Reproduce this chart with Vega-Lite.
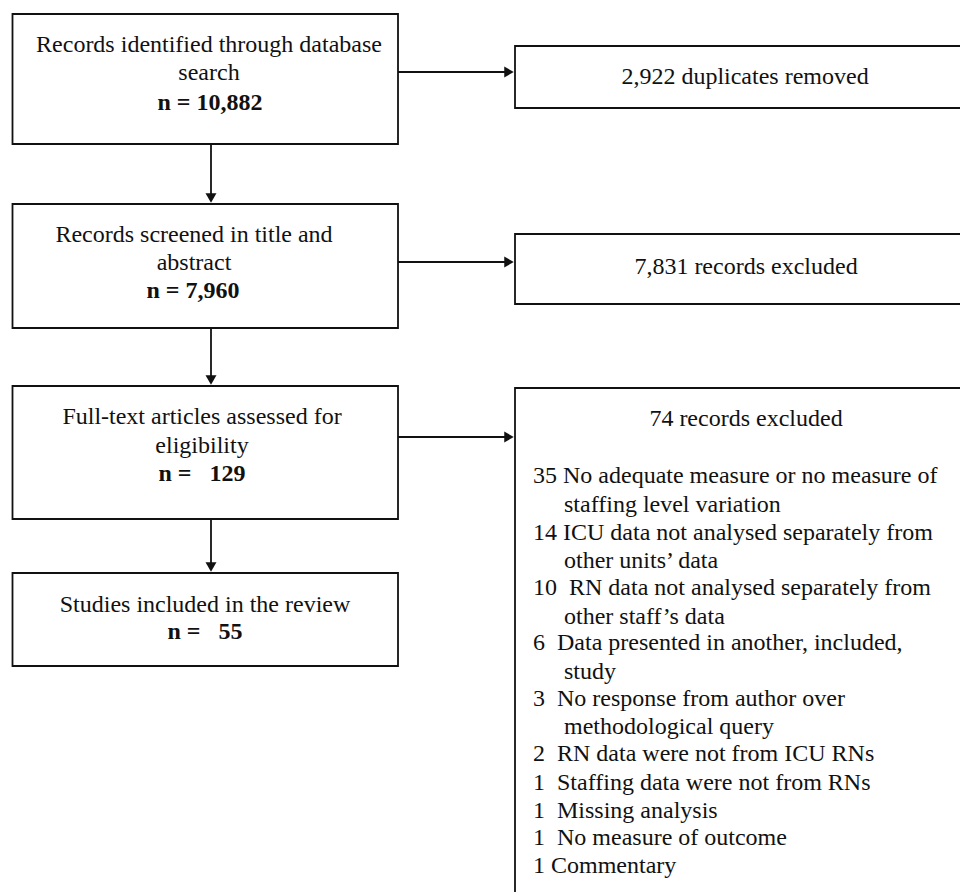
{
  "$schema": "https://vega.github.io/schema/vega-lite/v6.json",
  "width": 960,
  "height": 892,
  "autosize": {"type": "fit", "contains": "padding"},
  "padding": 0,
  "background": "white",
  "config": {"view": {"stroke": null}},
  "datasets": {
    "boxes": [
      {"id": "B1", "x": 12.5, "x2": 398, "y": 14, "y2": 144},
      {"id": "B2", "x": 12.5, "x2": 398, "y": 204, "y2": 328},
      {"id": "B3", "x": 12.5, "x2": 398, "y": 386, "y2": 519},
      {"id": "B4", "x": 12.5, "x2": 398, "y": 573, "y2": 666},
      {"id": "R1", "x": 515, "x2": 975, "y": 46, "y2": 108},
      {"id": "R2", "x": 515, "x2": 975, "y": 234, "y2": 304},
      {"id": "R3", "x": 515, "x2": 975, "y": 388, "y2": 910}
    ],
    "arrows": [
      {"x": 211, "y": 144, "x2": 211, "y2": 197},
      {"x": 211, "y": 328, "x2": 211, "y2": 379},
      {"x": 211, "y": 519, "x2": 211, "y2": 566},
      {"x": 398, "y": 72, "x2": 508, "y2": 72},
      {"x": 398, "y": 262, "x2": 508, "y2": 262},
      {"x": 398, "y": 437, "x2": 508, "y2": 437}
    ],
    "heads": [
      {"x": 211, "y": 198, "dir": "down"},
      {"x": 211, "y": 380, "dir": "down"},
      {"x": 211, "y": 567, "dir": "down"},
      {"x": 509, "y": 72, "dir": "right"},
      {"x": 509, "y": 262, "dir": "right"},
      {"x": 509, "y": 437, "dir": "right"}
    ],
    "labels": [
      {"x": 209, "y": 45, "text": "Records identified through database", "kind": "c"},
      {"x": 209, "y": 73, "text": "search", "kind": "c"},
      {"x": 210, "y": 103, "text": "n = 10,882", "kind": "b"},
      {"x": 194, "y": 235, "text": "Records screened in title and", "kind": "c"},
      {"x": 194, "y": 263, "text": "abstract", "kind": "c"},
      {"x": 193, "y": 291, "text": "n = 7,960", "kind": "b"},
      {"x": 202, "y": 417, "text": "Full-text articles assessed for", "kind": "c"},
      {"x": 202, "y": 446, "text": "eligibility", "kind": "c"},
      {"x": 202, "y": 474, "text": "n =\u00a0\u00a0 129", "kind": "b"},
      {"x": 205, "y": 605, "text": "Studies included in the review", "kind": "c"},
      {"x": 205, "y": 632, "text": "n =\u00a0\u00a0 55", "kind": "b"},
      {"x": 745, "y": 77, "text": "2,922 duplicates removed", "kind": "c"},
      {"x": 746, "y": 267, "text": "7,831 records excluded", "kind": "c"},
      {"x": 746, "y": 419, "text": "74 records excluded", "kind": "c"},
      {"x": 533, "y": 476, "text": "35 No adequate measure or no measure of", "kind": "l"},
      {"x": 564, "y": 505, "text": "staffing level variation", "kind": "l"},
      {"x": 533, "y": 533, "text": "14 ICU data not analysed separately from", "kind": "l"},
      {"x": 564, "y": 561, "text": "other units\u2019 data", "kind": "l"},
      {"x": 533, "y": 588, "text": "10\u00a0 RN data not analysed separately from", "kind": "l"},
      {"x": 564, "y": 617, "text": "other staff\u2019s data", "kind": "l"},
      {"x": 533, "y": 643, "text": "6\u00a0 Data presented in another, included,", "kind": "l"},
      {"x": 564, "y": 672, "text": "study", "kind": "l"},
      {"x": 533, "y": 699, "text": "3\u00a0 No response from author over", "kind": "l"},
      {"x": 564, "y": 727, "text": "methodological query", "kind": "l"},
      {"x": 533, "y": 754, "text": "2\u00a0 RN data were not from ICU RNs", "kind": "l"},
      {"x": 533, "y": 783, "text": "1\u00a0 Staffing data were not from RNs", "kind": "l"},
      {"x": 533, "y": 811, "text": "1\u00a0 Missing analysis", "kind": "l"},
      {"x": 533, "y": 838, "text": "1\u00a0 No measure of outcome", "kind": "l"},
      {"x": 533, "y": 866, "text": "1 Commentary", "kind": "l"}
    ]
  },
  "layer": [
    {
      "data": {"name": "boxes"},
      "mark": {"type": "rect", "fill": "white", "stroke": "#111111", "strokeWidth": 1.8, "clip": true},
      "encoding": {
        "x": {"field": "x", "type": "quantitative", "scale": {"domain": [0, 960], "nice": false, "zero": false}, "axis": null},
        "x2": {"field": "x2"},
        "y": {"field": "y", "type": "quantitative", "scale": {"domain": [0, 892], "nice": false, "zero": false, "reverse": true}, "axis": null},
        "y2": {"field": "y2"}
      }
    },
    {
      "data": {"name": "arrows"},
      "mark": {"type": "rule", "color": "#111111", "strokeWidth": 1.8},
      "encoding": {
        "x": {"field": "x", "type": "quantitative"},
        "x2": {"field": "x2"},
        "y": {"field": "y", "type": "quantitative"},
        "y2": {"field": "y2"}
      }
    },
    {
      "data": {"name": "heads"},
      "transform": [{"filter": "datum.dir === 'down'"}],
      "mark": {"type": "point", "shape": "triangle-down", "filled": true, "color": "#111111", "size": 120, "opacity": 1},
      "encoding": {
        "x": {"field": "x", "type": "quantitative"},
        "y": {"field": "y", "type": "quantitative"}
      }
    },
    {
      "data": {"name": "heads"},
      "transform": [{"filter": "datum.dir === 'right'"}],
      "mark": {"type": "point", "shape": "triangle-right", "filled": true, "color": "#111111", "size": 120, "opacity": 1},
      "encoding": {
        "x": {"field": "x", "type": "quantitative"},
        "y": {"field": "y", "type": "quantitative"}
      }
    },
    {
      "data": {"name": "labels"},
      "transform": [{"filter": "datum.kind === 'c'"}],
      "mark": {"type": "text", "font": "Liberation Serif", "fontSize": 24, "align": "center", "baseline": "middle", "color": "#111111"},
      "encoding": {
        "x": {"field": "x", "type": "quantitative"},
        "y": {"field": "y", "type": "quantitative"},
        "text": {"field": "text"}
      }
    },
    {
      "data": {"name": "labels"},
      "transform": [{"filter": "datum.kind === 'b'"}],
      "mark": {"type": "text", "font": "Liberation Serif", "fontSize": 24, "fontWeight": "bold", "align": "center", "baseline": "middle", "color": "#111111"},
      "encoding": {
        "x": {"field": "x", "type": "quantitative"},
        "y": {"field": "y", "type": "quantitative"},
        "text": {"field": "text"}
      }
    },
    {
      "data": {"name": "labels"},
      "transform": [{"filter": "datum.kind === 'l'"}],
      "mark": {"type": "text", "font": "Liberation Serif", "fontSize": 24, "align": "left", "baseline": "middle", "color": "#111111"},
      "encoding": {
        "x": {"field": "x", "type": "quantitative"},
        "y": {"field": "y", "type": "quantitative"},
        "text": {"field": "text"}
      }
    }
  ]
}
